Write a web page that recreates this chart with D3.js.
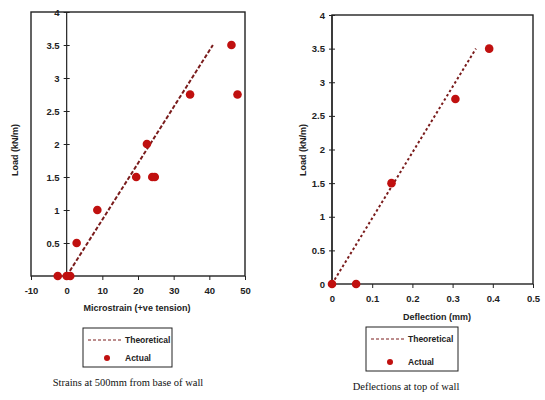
<!DOCTYPE html>
<html><head><meta charset="utf-8">
<script src="https://cdn.jsdelivr.net/npm/d3@7"></script>
<style>
body{margin:0;background:#fff;}
svg text{font-family:"Liberation Sans",Arial,sans-serif;}
</style></head>
<body><svg id="c" width="545" height="400"></svg>
<script>
// Left chart: strains
const strainTheoX = [0, 41];
const strainTheoY = [0, 3.5];
const strainActX = [-2.5, 0, 1, 2.8, 8.6, 19.5, 24, 24.7, 22.5, 34.6, 46.2, 47.9];
const strainActY = [0, 0, 0, 0.5, 1, 1.5, 1.5, 1.5, 2, 2.75, 3.5, 2.75];
const strainXTicks = [-10, 0, 10, 20, 30, 40, 50];
const strainYTicks = [0.5, 1, 1.5, 2, 2.5, 3, 3.5, 4];
// Right chart: deflections
const deflTheoX = [0, 0.358];
const deflTheoY = [0, 3.5];
const deflActX = [0, 0.06, 0.148, 0.307, 0.391];
const deflActY = [0, 0, 1.5, 2.75, 3.5];
const deflXTicks = [0, 0.1, 0.2, 0.3, 0.4, 0.5];
const deflYTicks = [0, 0.5, 1, 1.5, 2, 2.5, 3, 3.5, 4];

const svg = d3.select("#c");
const dotColor = "#c0100f", lineColor = "#7a1c1c", axisColor = "#222";

function panel(o) {
  const x = d3.scaleLinear().domain(o.xd).range([o.l, o.r]);
  const y = d3.scaleLinear().domain([0, 4]).range([o.b, o.t]);
  const g = svg.append("g");
  g.append("rect").attr("x", o.l).attr("y", o.t).attr("width", o.r - o.l).attr("height", o.b - o.t)
    .attr("fill", "none").attr("stroke", axisColor).attr("stroke-width", 1.4);
  // x axis
  const xa = g.append("g").attr("transform", `translate(0,${o.b})`)
    .call(d3.axisBottom(x).tickValues(o.xt).tickSize(4).tickPadding(7).tickFormat(d => String(d)));
  xa.select(".domain").remove();
  xa.selectAll("line").attr("stroke", axisColor);
  xa.selectAll("text").attr("font-size", 9.5).attr("font-weight", "bold").attr("fill", "#222");
  // y axis at x=0
  const ya = g.append("g").attr("transform", `translate(${x(0)},0)`)
    .call(d3.axisLeft(y).tickValues(o.yt).tickSize(3).tickPadding(4).tickFormat(d => String(d)));
  ya.select(".domain").attr("stroke", axisColor).attr("stroke-width", 1.2).attr("d", `M0,${o.b}V${o.t}`);
  ya.selectAll("line").attr("stroke", axisColor).attr("x2", -3).attr("x1", 3);
  ya.selectAll("text").attr("font-size", 9.5).attr("font-weight", "bold").attr("fill", "#222");
  // theoretical line
  const pts = o.tx.map((v, i) => [x(v), y(o.ty[i])]);
  g.append("path").attr("d", d3.line()(pts)).attr("fill", "none")
    .attr("stroke", lineColor).attr("stroke-width", 2).attr("stroke-dasharray", o.dash);
  // actual points
  g.selectAll("circle.p").data(o.ax.map((v, i) => [v, o.ay[i]])).join("circle")
    .attr("cx", d => x(d[0])).attr("cy", d => y(d[1])).attr("r", 4.3).attr("fill", dotColor);
  // axis titles
  g.append("text").attr("x", o.xtX).attr("y", o.xtY).attr("text-anchor", "middle")
    .attr("font-size", 9).attr("font-weight", "bold").attr("fill", "#222").text(o.xTitle);
  g.append("text").attr("transform", `translate(${o.ytX},${o.ytY}) rotate(-90)`).attr("text-anchor", "middle")
    .attr("font-size", 9).attr("font-weight", "bold").attr("fill", "#222").text("Load (kN/m)");
  // legend
  const L = o.leg;
  g.append("rect").attr("x", L.x).attr("y", L.y).attr("width", L.w).attr("height", L.h)
    .attr("fill", "none").attr("stroke", axisColor).attr("stroke-width", 1);
  g.append("line").attr("x1", L.x + 5).attr("x2", L.x + 40).attr("y1", L.y + 12).attr("y2", L.y + 12)
    .attr("stroke", lineColor).attr("stroke-width", 1).attr("stroke-dasharray", "3,2");
  g.append("text").attr("x", L.x + 42).attr("y", L.y + 15).attr("font-size", 8.5).attr("font-weight", "bold").attr("fill", "#222").text("Theoretical");
  g.append("circle").attr("cx", L.x + 24).attr("cy", L.y + L.h - 9).attr("r", 3).attr("fill", dotColor);
  g.append("text").attr("x", L.x + 42).attr("y", L.y + L.h - 6).attr("font-size", 8.5).attr("font-weight", "bold").attr("fill", "#222").text("Actual");
  g.append("text").attr("x", o.cx).attr("y", o.cy).attr("text-anchor", "middle")
    .style("font-family", "'Liberation Serif','Times New Roman',serif")
    .attr("font-size", 10.5).attr("fill", "#111").text(o.caption);
}

panel({xd: [-10, 50], l: 31, r: 245, t: 12, b: 276, xt: strainXTicks, yt: strainYTicks,
  tx: strainTheoX, ty: strainTheoY, ax: strainActX, ay: strainActY, dash: "4,2",
  xTitle: "Microstrain (+ve tension)", xtX: 137, xtY: 311, ytX: 18, ytY: 150,
  leg: {x: 83, y: 328, w: 89, h: 39}, caption: "Strains at 500mm from base of wall", cx: 128, cy: 386});

panel({xd: [0, 0.5], l: 332, r: 533, t: 15, b: 284, xt: deflXTicks, yt: deflYTicks,
  tx: deflTheoX, ty: deflTheoY, ax: deflActX, ay: deflActY, dash: "2.5,2.5",
  xTitle: "Deflection (mm)", xtX: 437, xtY: 320, ytX: 306, ytY: 150,
  leg: {x: 366, y: 327, w: 92, h: 44}, caption: "Deflections at top of wall", cx: 406, cy: 390});
</script></body></html>
